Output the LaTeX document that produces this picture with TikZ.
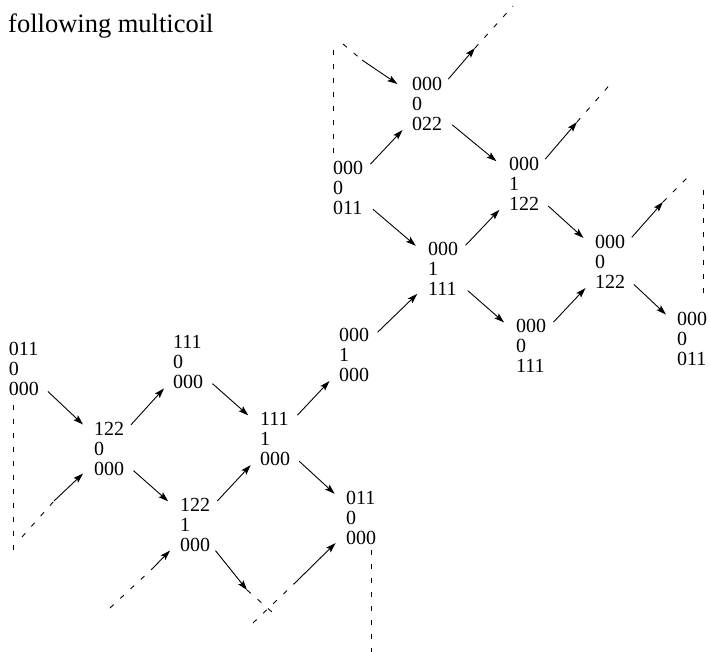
\documentclass[tikz,border=0pt]{standalone}
\usepackage{fontspec}
\setmainfont{Liberation Serif}
\usetikzlibrary{arrows.meta}

\begin{document}
\begin{tikzpicture}[x=1pt, y=-1pt,
		cell/.style={shape=circle, inner sep=0pt, align=left,
			font=\fontsize{20}{20}\selectfont},
		arr/.style={-{Stealth[length=10pt,width=6.5pt,inset=2pt]}, line width=0.9pt},
		link/.style={arr, shorten <=2pt, shorten >=5pt},
		stub/.style={line width=0.9pt, dash pattern=on 5pt off 9pt}]
		
		\useasboundingbox (0,0) rectangle (710,652);
		
		% heading
		\node[anchor=base west, inner sep=0pt, font=\fontsize{26.5}{30}\selectfont]
		(title) at (8,33) {following multicoil};
		
		% lower part of the coil
		\node[cell] (A) at (24,369) {011\\0\\000};
		\node[cell] (B) at (109,449) {122\\0\\000};
		\node[cell] (C) at (188,362) {111\\0\\000};
		\node[cell] (D) at (195,525) {122\\1\\000};
		\node[cell] (E) at (275,439) {111\\1\\000};
		\node[cell] (F) at (361,518) {011\\0\\000};
		\node[cell] (G) at (354,355) {000\\1\\000};
		
		% upper part of the coil
		\node[cell] (H) at (443,269) {000\\1\\111};
		\node[cell] (I) at (348,188) {000\\0\\011};
		\node[cell] (J) at (427,104) {000\\0\\022};
		\node[cell] (K) at (524,184) {000\\1\\122};
		\node[cell] (L) at (610,262) {000\\0\\122};
		\node[cell] (M) at (531,346) {000\\0\\111};
		\node[cell] (N) at (692,339) {000\\0\\011};
		
		% transitions
		\draw[link] (A) -- (B);
		\draw[link] (B) -- (C);
		\draw[link] (B) -- (D);
		\draw[link] (C) -- (E);
		\draw[link] (D) -- (E);
		\draw[link] (E) -- (G);
		\draw[link] (E) -- (F);
		\draw[link] (G) -- (H);
		\draw[link] (I) -- (H);
		\draw[link] (I) -- (J);
		\draw[link] (J) -- (K);
		\draw[link] (H) -- (K);
		\draw[link] (H) -- (M);
		\draw[link] (K) -- (L);
		\draw[link] (M) -- (L);
		\draw[link] (L) -- (N);
		
		% loose ends, continued dashed
		\coordinate (bin) at (54,501);   \coordinate (bin0) at (22,537);
		\coordinate (din) at (152,569);  \coordinate (din0) at (110,608);
		\coordinate (fin) at (297,581);  \coordinate (fin0) at (253,623);
		\coordinate (jin) at (362,60);   \coordinate (jin0) at (343,44);
		\coordinate (dout) at (247,590); \coordinate (dout1) at (272,612);
		\coordinate (jout) at (475,48);  \coordinate (jout1) at (513,6);
		\coordinate (kout) at (577,122); \coordinate (kout1) at (614,80);
		\coordinate (lout) at (663,202); \coordinate (lout1) at (691,174);
		
		\draw[stub] (bin0) -- (bin);   \draw[link, shorten <=0pt] (bin) -- (B);
		\draw[stub] (din0) -- (din);   \draw[link, shorten <=0pt] (din) -- (D);
		\draw[stub] (fin0) -- (fin);   \draw[link, shorten <=0pt] (fin) -- (F);
		\draw[stub] (jin0) -- (jin);   \draw[link, shorten <=0pt] (jin) -- (J);
		\draw[arr, shorten <=2pt] (D) -- (dout); \draw[stub] (dout) -- (dout1);
		\draw[arr, shorten <=2pt] (J) -- (jout); \draw[stub] (jout) -- (jout1);
		\draw[arr, shorten <=2pt] (K) -- (kout); \draw[stub] (kout) -- (kout1);
		\draw[arr, shorten <=2pt] (L) -- (lout); \draw[stub] (lout) -- (lout1);
		
		% glued edges
		\coordinate (a0) at (13,405);  \coordinate (a1) at (13,550);
		\coordinate (f0) at (371,550); \coordinate (f1) at (371,652);
		\coordinate (i0) at (333,50);  \coordinate (i1) at (333,157);
		\coordinate (n0) at (703,190); \coordinate (n1) at (703,300);
		\draw[stub] (a0) -- (a1);
		\draw[stub] (f0) -- (f1);
		\draw[stub] (i0) -- (i1);
		\draw[stub] (n0) -- (n1);
		
	\end{tikzpicture}
\end{document}
